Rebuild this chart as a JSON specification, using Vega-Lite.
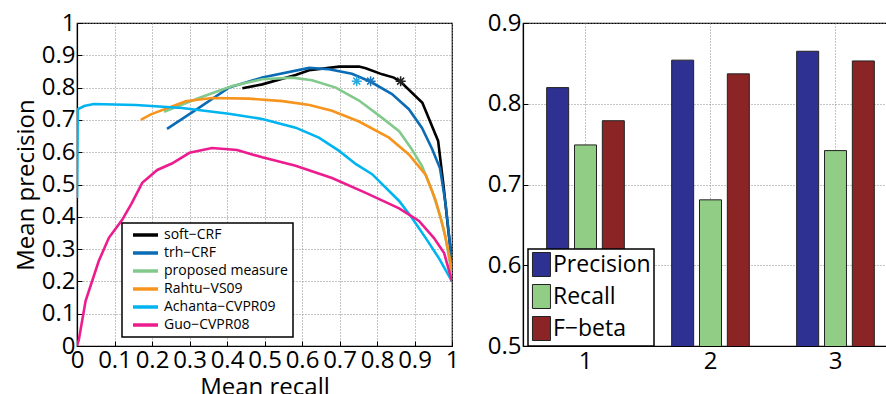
{
  "$schema": "https://vega.github.io/schema/vega-lite/v6.json",
  "padding": {"left": 13, "top": 10, "right": 0, "bottom": 0},
  "background": "white",
  "bounds": "flush",
  "spacing": 71,
  "resolve": {"scale": {"color": "independent"}, "legend": {"color": "independent"}},
  "config": {
    "font": "Open Sans",
    "view": {"stroke": "black", "strokeWidth": 1.2},
    "axis": {
      "domainColor": "black", "domainWidth": 1.2, "tickColor": "black", "tickSize": -5,
      "labelColor": "black", "titleColor": "black", "labelFont": "Open Sans", "titleFont": "Open Sans",
      "labelFontSize": 24, "titleFontSize": 24, "titleFontWeight": "normal",
      "gridColor": "#8c8c8c", "gridDash": [1, 2], "gridWidth": 1,
      "labelOverlap": false, "labelFlush": false, "labelPadding": 7
    },
    "legend": {"labelFont": "Open Sans", "labelColor": "black", "strokeColor": "black", "fillColor": "white"}
  },
  "datasets": {
    "curves": [
      {"series": "soft−CRF", "x": 0.441, "y": 0.798},
      {"series": "soft−CRF", "x": 0.494, "y": 0.81},
      {"series": "soft−CRF", "x": 0.583, "y": 0.839},
      {"series": "soft−CRF", "x": 0.619, "y": 0.854},
      {"series": "soft−CRF", "x": 0.699, "y": 0.865},
      {"series": "soft−CRF", "x": 0.752, "y": 0.865},
      {"series": "soft−CRF", "x": 0.77, "y": 0.86},
      {"series": "soft−CRF", "x": 0.814, "y": 0.841},
      {"series": "soft−CRF", "x": 0.845, "y": 0.831},
      {"series": "soft−CRF", "x": 0.863, "y": 0.818},
      {"series": "soft−CRF", "x": 0.921, "y": 0.753},
      {"series": "soft−CRF", "x": 0.963, "y": 0.635},
      {"series": "soft−CRF", "x": 0.977, "y": 0.5},
      {"series": "soft−CRF", "x": 0.99, "y": 0.36},
      {"series": "soft−CRF", "x": 1.0, "y": 0.26},
      {"series": "trh−CRF", "x": 0.24, "y": 0.672},
      {"series": "trh−CRF", "x": 0.325, "y": 0.737},
      {"series": "trh−CRF", "x": 0.405, "y": 0.8},
      {"series": "trh−CRF", "x": 0.494, "y": 0.831},
      {"series": "trh−CRF", "x": 0.619, "y": 0.861},
      {"series": "trh−CRF", "x": 0.672, "y": 0.857},
      {"series": "trh−CRF", "x": 0.733, "y": 0.843},
      {"series": "trh−CRF", "x": 0.783, "y": 0.818},
      {"series": "trh−CRF", "x": 0.84, "y": 0.78},
      {"series": "trh−CRF", "x": 0.885, "y": 0.733},
      {"series": "trh−CRF", "x": 0.92, "y": 0.675},
      {"series": "trh−CRF", "x": 0.947, "y": 0.61},
      {"series": "trh−CRF", "x": 0.968, "y": 0.55},
      {"series": "trh−CRF", "x": 0.983, "y": 0.44},
      {"series": "trh−CRF", "x": 0.995, "y": 0.31},
      {"series": "trh−CRF", "x": 1.0, "y": 0.24},
      {"series": "proposed measure", "x": 0.232, "y": 0.725},
      {"series": "proposed measure", "x": 0.325, "y": 0.768},
      {"series": "proposed measure", "x": 0.414, "y": 0.805},
      {"series": "proposed measure", "x": 0.494, "y": 0.826},
      {"series": "proposed measure", "x": 0.574, "y": 0.831},
      {"series": "proposed measure", "x": 0.627, "y": 0.823},
      {"series": "proposed measure", "x": 0.69, "y": 0.8},
      {"series": "proposed measure", "x": 0.752, "y": 0.76},
      {"series": "proposed measure", "x": 0.805, "y": 0.714},
      {"series": "proposed measure", "x": 0.859, "y": 0.665},
      {"series": "proposed measure", "x": 0.89, "y": 0.614},
      {"series": "proposed measure", "x": 0.92, "y": 0.557},
      {"series": "proposed measure", "x": 0.947, "y": 0.48},
      {"series": "proposed measure", "x": 0.97, "y": 0.397},
      {"series": "proposed measure", "x": 0.983, "y": 0.334},
      {"series": "proposed measure", "x": 1.0, "y": 0.22},
      {"series": "Rahtu−VS09", "x": 0.17, "y": 0.70},
      {"series": "Rahtu−VS09", "x": 0.197, "y": 0.717},
      {"series": "Rahtu−VS09", "x": 0.29, "y": 0.758},
      {"series": "Rahtu−VS09", "x": 0.36, "y": 0.768},
      {"series": "Rahtu−VS09", "x": 0.458, "y": 0.766},
      {"series": "Rahtu−VS09", "x": 0.548, "y": 0.758},
      {"series": "Rahtu−VS09", "x": 0.62, "y": 0.746},
      {"series": "Rahtu−VS09", "x": 0.68, "y": 0.728},
      {"series": "Rahtu−VS09", "x": 0.752, "y": 0.695},
      {"series": "Rahtu−VS09", "x": 0.832, "y": 0.645},
      {"series": "Rahtu−VS09", "x": 0.885, "y": 0.593},
      {"series": "Rahtu−VS09", "x": 0.93, "y": 0.53},
      {"series": "Rahtu−VS09", "x": 0.957, "y": 0.449},
      {"series": "Rahtu−VS09", "x": 0.979, "y": 0.356},
      {"series": "Rahtu−VS09", "x": 0.992, "y": 0.284},
      {"series": "Rahtu−VS09", "x": 1.0, "y": 0.23},
      {"series": "Achanta−CVPR09", "x": 0.0, "y": 0.458},
      {"series": "Achanta−CVPR09", "x": 0.002, "y": 0.733},
      {"series": "Achanta−CVPR09", "x": 0.019, "y": 0.743},
      {"series": "Achanta−CVPR09", "x": 0.045, "y": 0.749},
      {"series": "Achanta−CVPR09", "x": 0.157, "y": 0.746},
      {"series": "Achanta−CVPR09", "x": 0.28, "y": 0.737},
      {"series": "Achanta−CVPR09", "x": 0.405, "y": 0.719},
      {"series": "Achanta−CVPR09", "x": 0.494, "y": 0.703},
      {"series": "Achanta−CVPR09", "x": 0.583, "y": 0.676},
      {"series": "Achanta−CVPR09", "x": 0.645, "y": 0.645},
      {"series": "Achanta−CVPR09", "x": 0.699, "y": 0.604},
      {"series": "Achanta−CVPR09", "x": 0.744, "y": 0.563},
      {"series": "Achanta−CVPR09", "x": 0.787, "y": 0.532},
      {"series": "Achanta−CVPR09", "x": 0.859, "y": 0.449},
      {"series": "Achanta−CVPR09", "x": 0.893, "y": 0.397},
      {"series": "Achanta−CVPR09", "x": 0.93, "y": 0.334},
      {"series": "Achanta−CVPR09", "x": 0.965, "y": 0.272},
      {"series": "Achanta−CVPR09", "x": 1.0, "y": 0.2},
      {"series": "Guo−CVPR08", "x": 0.0, "y": 0.0},
      {"series": "Guo−CVPR08", "x": 0.005, "y": 0.02},
      {"series": "Guo−CVPR08", "x": 0.023, "y": 0.14},
      {"series": "Guo−CVPR08", "x": 0.058, "y": 0.263},
      {"series": "Guo−CVPR08", "x": 0.085, "y": 0.335},
      {"series": "Guo−CVPR08", "x": 0.12, "y": 0.39},
      {"series": "Guo−CVPR08", "x": 0.145, "y": 0.44},
      {"series": "Guo−CVPR08", "x": 0.174, "y": 0.505},
      {"series": "Guo−CVPR08", "x": 0.214, "y": 0.545},
      {"series": "Guo−CVPR08", "x": 0.253, "y": 0.565},
      {"series": "Guo−CVPR08", "x": 0.3, "y": 0.598},
      {"series": "Guo−CVPR08", "x": 0.36, "y": 0.613},
      {"series": "Guo−CVPR08", "x": 0.427, "y": 0.607},
      {"series": "Guo−CVPR08", "x": 0.494, "y": 0.584},
      {"series": "Guo−CVPR08", "x": 0.583, "y": 0.558},
      {"series": "Guo−CVPR08", "x": 0.68, "y": 0.52},
      {"series": "Guo−CVPR08", "x": 0.77, "y": 0.474},
      {"series": "Guo−CVPR08", "x": 0.859, "y": 0.426},
      {"series": "Guo−CVPR08", "x": 0.912, "y": 0.387},
      {"series": "Guo−CVPR08", "x": 0.952, "y": 0.334},
      {"series": "Guo−CVPR08", "x": 0.979, "y": 0.288},
      {"series": "Guo−CVPR08", "x": 1.0, "y": 0.2}
    ],
    "stars": [
      {"series": "soft−CRF", "x": 0.863, "y": 0.82},
      {"series": "trh−CRF", "x": 0.783, "y": 0.82},
      {"series": "Achanta−CVPR09", "x": 0.746, "y": 0.82}
    ],
    "bars": [
      {"group": 1, "measure": "Precision", "value": 0.82},
      {"group": 1, "measure": "Recall", "value": 0.749},
      {"group": 1, "measure": "F−beta", "value": 0.779},
      {"group": 2, "measure": "Precision", "value": 0.854},
      {"group": 2, "measure": "Recall", "value": 0.681},
      {"group": 2, "measure": "F−beta", "value": 0.837},
      {"group": 3, "measure": "Precision", "value": 0.865},
      {"group": 3, "measure": "Recall", "value": 0.742},
      {"group": 3, "measure": "F−beta", "value": 0.853}
    ]
  },
  "hconcat": [
    {
      "width": 375,
      "height": 323,
      "encoding": {
        "x": {"field": "x", "type": "quantitative", "scale": {"domain": [0, 1], "nice": false},
              "axis": {"values": [0, 0.1, 0.2, 0.3, 0.4, 0.5, 0.6, 0.7, 0.8, 0.9, 1], "tickCount": 11, "format": "~g", "title": "Mean recall", "grid": true, "titlePadding": 3, "labelOverlap": false, "labelFlush": false}},
        "y": {"field": "y", "type": "quantitative", "scale": {"domain": [0, 1], "nice": false},
              "axis": {"values": [0, 0.1, 0.2, 0.3, 0.4, 0.5, 0.6, 0.7, 0.8, 0.9, 1], "tickCount": 11, "format": "~g", "title": "Mean precision", "grid": true, "titlePadding": 3, "labelOverlap": false, "labelFlush": false}}
      },
      "layer": [
        {
          "data": {"name": "curves"},
          "mark": {"type": "line", "strokeWidth": 2.6, "clip": true},
          "encoding": {
            "color": {
              "field": "series", "type": "nominal",
              "scale": {
                "domain": ["soft−CRF", "trh−CRF", "proposed measure", "Rahtu−VS09", "Achanta−CVPR09", "Guo−CVPR08"],
                "range": ["#000000", "#0b6cb5", "#82c98c", "#f7941d", "#00b4ef", "#ec1c8e"]
              },
              "sort": null,
              "legend": {
                "orient": "none", "legendX": 45, "legendY": 200, "title": null,
                "symbolType": "M-0.2,0H4.8", "symbolSize": 100, "symbolStrokeWidth": 3.5,
                "labelFontSize": 14, "labelOffset": 23, "padding": 5, "rowPadding": 4,
                "encode": {"legend": {"update": {"strokeWidth": {"value": 1.5}}}}
              }
            }
          }
        },
        {
          "data": {"name": "stars"},
          "transform": [{"filter": "datum.series == 'soft−CRF'"}],
          "mark": {"type": "point", "shape": "M-1,0H1M0,-1V1M-0.7,-0.7L0.7,0.7M-0.7,0.7L0.7,-0.7", "filled": false, "color": "#222222", "strokeWidth": 1.5, "size": 100, "opacity": 1}
        },
        {
          "data": {"name": "stars"},
          "transform": [{"filter": "datum.series == 'trh−CRF'"}],
          "mark": {"type": "point", "shape": "M-1,0H1M0,-1V1M-0.7,-0.7L0.7,0.7M-0.7,0.7L0.7,-0.7", "filled": false, "color": "#1b75bc", "strokeWidth": 1.5, "size": 100, "opacity": 1}
        },
        {
          "data": {"name": "stars"},
          "transform": [{"filter": "datum.series == 'Achanta−CVPR09'"}],
          "mark": {"type": "point", "shape": "M-1,0H1M0,-1V1M-0.7,-0.7L0.7,0.7M-0.7,0.7L0.7,-0.7", "filled": false, "color": "#29abe2", "strokeWidth": 1.5, "size": 100, "opacity": 1}
        }
      ]
    },
    {
      "width": 375,
      "height": 323,
      "data": {"name": "bars"},
      "mark": {"type": "bar", "stroke": "#222222", "strokeWidth": 1, "clip": true},
      "encoding": {
        "x": {"field": "group", "type": "ordinal", "scale": {"paddingInner": 0, "paddingOuter": 0},
              "axis": {"labelAngle": 0, "title": null, "grid": true, "labelPadding": 8}},
        "xOffset": {"field": "measure", "type": "nominal", "sort": ["Precision", "Recall", "F−beta"],
                    "scale": {"paddingInner": 0.21, "paddingOuter": 0.85}},
        "y": {"field": "value", "type": "quantitative", "scale": {"domain": [0.5, 0.9], "nice": false, "zero": false},
              "axis": {"values": [0.5, 0.6, 0.7, 0.8, 0.9], "format": ".1f", "title": null, "grid": true, "labelOverlap": false, "labelFlush": false}},
        "color": {
          "field": "measure", "type": "nominal", "sort": ["Precision", "Recall", "F−beta"],
          "scale": {"domain": ["Precision", "Recall", "F−beta"], "range": ["#2e3192", "#92cd86", "#8b2525"]},
          "legend": {
            "orient": "none", "legendX": 5, "legendY": 226, "title": null,
            "symbolType": "M-0.92,-1H0.58V1H-0.92Z", "symbolSize": 576, "symbolStrokeColor": "#222222", "symbolStrokeWidth": 1,
            "symbolOpacity": 1,
            "labelFontSize": 23, "labelOffset": -3, "padding": 3, "rowPadding": 3,
            "encode": {"legend": {"update": {"strokeWidth": {"value": 1.5}}}}
          }
        }
      }
    }
  ]
}
